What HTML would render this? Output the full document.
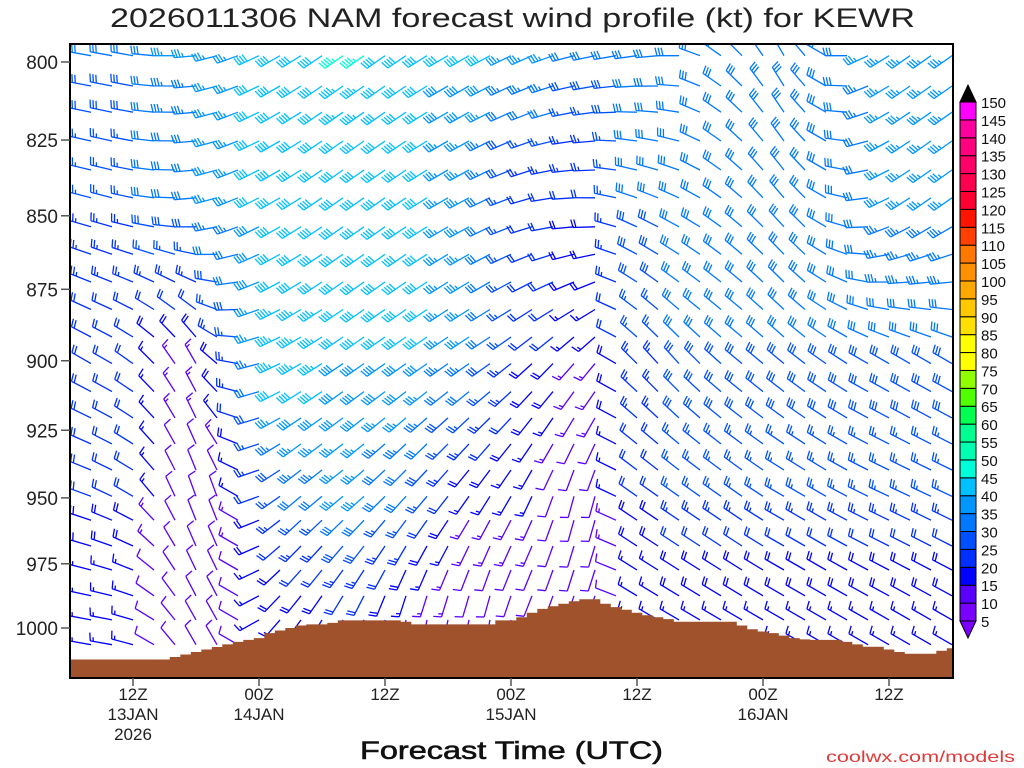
<!DOCTYPE html>
<html><head><meta charset="utf-8"><style>
html,body{margin:0;padding:0;background:#fff;}
svg{display:block;font-family:"Liberation Sans",sans-serif;}
</style></head><body>
<svg id="chart" width="1024" height="768" viewBox="0 0 1024 768" xmlns="http://www.w3.org/2000/svg">
<defs><clipPath id="plotclip"><rect x="70" y="44" width="883" height="634"/></clipPath></defs>
<rect x="0" y="0" width="1024" height="768" fill="#fff"/>
<text x="110" y="27" font-size="27" textLength="805" lengthAdjust="spacingAndGlyphs" fill="#222">2026011306 NAM forecast wind profile (kt) for KEWR</text>
<g id="barbs" clip-path="url(#plotclip)"></g>
<g id="terrain" clip-path="url(#plotclip)"></g>
<rect x="70" y="44" width="883" height="634" fill="none" stroke="#000" stroke-width="2"/>
<g id="yaxis"></g>
<g id="xaxis"></g>
<g id="colorbar"></g>
<text x="360" y="759" font-size="25" stroke="#111" stroke-width="0.6" textLength="303" lengthAdjust="spacingAndGlyphs" fill="#111">Forecast Time (UTC)</text>
<text x="826" y="762" font-size="16" textLength="189" lengthAdjust="spacingAndGlyphs" fill="#e03a3a">coolwx.com/models</text>
</svg>
<script>
const NS="http://www.w3.org/2000/svg";
// ---- data ----
const hours=[0,2,4,6,8,10,12,14,16,18,20,22,24,26,28,30,32,34,36,38,40,42,44,46,48,50,52,54,56,58,60,62,64,66,68,70,72,74,76,78,80,82,84];
const rowLevels=[798,807.6,816,825.3,834.8,844,853.7,863,872.5,882,891.6,901,911,920.5,930,939.6,949.4,958.4,968.2,977.4,987.4,996.8,1006.6];
const keyLevels=[800,850,900,950,1000];
const dir800=[280,280,280,280,275,270,265,255,250,245,240,238,236,235,235,235,236,238,240,240,242,244,246,250,255,258,260,262,265,270,290,305,315,325,330,320,300,270,245,238,235,235,235];
const spd800=[25,30,30,30,30,35,35,35,35,40,40,40,40,45,45,40,40,40,40,40,40,35,35,35,30,30,30,30,30,30,30,30,30,30,30,30,30,30,35,35,35,35,35];
const dir850=[285,285,285,282,278,272,265,255,248,243,240,238,236,235,235,235,236,238,240,242,245,250,255,262,268,272,285,292,295,297,300,305,310,315,318,315,300,285,265,245,238,235,235];
const spd850=[25,25,25,25,30,30,30,35,35,40,40,40,40,40,40,40,40,40,35,35,30,25,20,20,20,20,25,30,30,30,30,30,30,30,30,30,30,30,30,35,35,35,35];
const dir900=[300,300,300,305,315,325,330,310,280,255,245,240,238,236,235,235,235,235,235,235,235,232,228,225,222,220,300,315,318,318,315,312,310,310,310,308,305,303,300,300,300,300,300];
const spd900=[20,20,20,20,15,15,15,20,25,35,45,45,45,40,40,40,40,40,35,35,30,25,20,20,15,15,20,25,25,30,30,30,30,30,30,30,30,30,30,30,30,30,30];
const dir950=[290,290,295,300,320,335,340,340,300,250,235,230,230,230,228,225,222,220,218,215,212,210,205,200,195,195,295,305,305,305,305,305,305,303,300,300,300,298,296,295,295,295,295];
const spd950=[20,20,20,20,15,10,10,10,15,20,25,30,30,35,35,30,30,25,20,15,15,15,15,10,10,10,15,20,20,25,25,25,25,25,25,25,25,25,25,25,25,25,25];
const dir1000=[280,280,280,285,300,320,330,330,300,240,220,215,210,205,200,195,190,190,190,190,190,195,200,200,200,200,290,300,300,300,300,300,300,300,300,300,300,300,300,300,300,300,300];
const spd1000=[15,15,15,15,10,10,10,10,10,15,15,15,15,15,15,15,10,10,10,10,10,10,10,10,10,10,10,15,15,15,15,15,15,15,15,15,15,15,15,15,15,15,15];
const groundP=[1012.5,1012.5,1012.5,1012.5,1012.5,1012.5,1012.5,1012.5,1012.5,1012.5,1011.5,1010.5,1009.5,1008.5,1007.5,1006.5,1005.5,1004.7,1004,1002,1001,1000,999,998.6,998.6,998,997,997,997,997,997,997,997.5,998.6,998.6,998.6,998.6,998.6,998.6,998.6,998.6,997,997,995.8,994,992.5,991.5,990.5,989.5,988.7,988.7,990.5,991.8,992.8,994,995,995.8,996.5,997.5,997.5,997.5,997.5,997.5,997.5,999,1000.5,1001.4,1002,1003,1004,1004.5,1004.7,1004.7,1004.7,1005.5,1006.5,1007.4,1007.4,1008.5,1009.5,1010.2,1010.2,1010.2,1009,1008];
const yTicks=[800,825,850,875,900,925,950,975,1000];
const xTickHours=[6,18,30,42,54,66,78];
const xTickLabels=[["12Z","13JAN","2026"],["00Z","14JAN"],["12Z"],["00Z","15JAN"],["12Z"],["00Z","16JAN"],["12Z"]];
const cbLevels=[5,10,15,20,25,30,35,40,45,50,55,60,65,70,75,80,85,90,95,100,105,110,115,120,125,130,135,140,145,150];
const cbColors=["#7a00ff","#5a00ff","#0000ff","#0030ff","#0050ff","#0078ff","#0096ff","#00c0ff","#00ffd8","#00ffb0","#00ff90","#00ff50","#50ff00","#90ff00","#ffff00","#ffff00","#ffe000","#ffc800","#ffa800","#ff9000","#ff7800","#ff4000","#ff1400","#ff0030","#ff0050","#ff0068","#ff0080","#ff00a0","#ff00ff"];
// ---- axes ----
const X0=70,PX=10.5,Y0=62,KY=566/Math.log(1000/800);
function xOf(h){return X0+h*PX;}
function yOf(p){return Y0+KY*Math.log(p/800);}
function mk(tag,attrs,parent){const e=document.createElementNS(NS,tag);for(const k in attrs)e.setAttribute(k,attrs[k]);parent.appendChild(e);return e;}
function colorFor(s){let i=Math.floor(s/5)-1;if(i<0)i=0;if(i>=cbColors.length)i=cbColors.length-1;return cbColors[i];}
const keyDir=[dir800,dir850,dir900,dir950,dir1000],keySpd=[spd800,spd850,spd900,spd950,spd1000];
function atLevel(arrs,c,p){
  if(p<=keyLevels[0])return arrs[0][c];
  for(let k=0;k<keyLevels.length-1;k++){if(p<=keyLevels[k+1]){const f=(p-keyLevels[k])/(keyLevels[k+1]-keyLevels[k]);return arrs[k][c]*(1-f)+arrs[k+1][c]*f;}}
  return arrs[keyLevels.length-1][c];
}
// ---- barbs ----
const gb=document.getElementById('barbs');
function drawBarb(sx,sy,dir,spd){
  const col=colorFor(spd);
  const g=document.createElementNS(NS,'g');
  
  
  gb.appendChild(g);
  const r=dir*Math.PI/180,ux=Math.sin(r),uy=-Math.cos(r),px=-uy,py=ux,L=22;
  const tx=sx+L*ux,ty=sy+L*uy;
  let d=`M${sx.toFixed(1)},${sy.toFixed(1)}L${tx.toFixed(1)},${ty.toFixed(1)}`;
  let s=Math.round(spd/5)*5,pos=0;
  let polys=[];
  while(s>=50){const bx=tx-pos*ux,by=ty-pos*uy;polys.push([bx,by,bx+8*px,by+8*py,bx-4*ux,by-4*uy]);pos+=5;s-=50;}
  while(s>=10){const bx=tx-pos*ux,by=ty-pos*uy;d+=`M${bx.toFixed(1)},${by.toFixed(1)}L${(bx+8*px+2*ux).toFixed(1)},${(by+8*py+2*uy).toFixed(1)}`;pos+=3;s-=10;}
  if(s>=5){if(pos===0)pos=3;const bx=tx-pos*ux,by=ty-pos*uy;d+=`M${bx.toFixed(1)},${by.toFixed(1)}L${(bx+4*px+1*ux).toFixed(1)},${(by+4*py+1*uy).toFixed(1)}`;}
  mk('path',{d:d,stroke:col,'stroke-width':1.3,fill:'none'},g);
  polys.forEach(q=>mk('polygon',{points:q.map(v=>v.toFixed(1)).join(' '),fill:col},g));
}
hours.forEach((h,c)=>{rowLevels.forEach(p=>{drawBarb(xOf(h),yOf(p),atLevel(keyDir,c,p),atLevel(keySpd,c,p));});});
// ---- terrain ----
const gt=document.getElementById('terrain');
let td=`M${X0},678`;
groundP.forEach((p,i)=>{const xl=Math.max(X0,xOf(i)-PX/2),xr=xOf(i)+PX/2,y=yOf(p);td+=`L${xl.toFixed(1)},${y.toFixed(1)}L${xr.toFixed(1)},${y.toFixed(1)}`;});
td+=`L953,678Z`;
const tp=mk('path',{d:td,fill:'#a0522d'},gt);


// ---- y axis ----
const gy=document.getElementById('yaxis');
yTicks.forEach(p=>{const y=yOf(p);
  const l=mk('line',{x1:61,y1:y,x2:70,y2:y,stroke:'#555','stroke-width':1.5},gy);
  
  
  const t=mk('text',{x:58,y:y+7,'font-size':19,'text-anchor':'end',fill:'#222'},gy);
  
  
  t.textContent=String(p);});
// ---- x axis ----
const gx=document.getElementById('xaxis');
xTickHours.forEach((h,i)=>{const x=xOf(h);
  const l=mk('line',{x1:x,y1:678,x2:x,y2:686,stroke:'#555','stroke-width':1.5},gx);
  
  
  xTickLabels[i].forEach((s,j)=>{const t=mk('text',{x:x,y:700+j*20,'font-size':17,'text-anchor':'middle',fill:'#222'},gx);
    
    
    t.textContent=s;});});
// ---- colorbar ----
const gc=document.getElementById('colorbar');
const CB_TOP=102,CB_BOT=621,CBX=960,CBW=16,bh=(CB_BOT-CB_TOP)/cbColors.length;
cbColors.forEach((c,i)=>{const y=CB_BOT-(i+1)*bh;
  const r=mk('rect',{x:CBX,y:y,width:CBW,height:bh,fill:c,stroke:'#000','stroke-width':1},gc);
  
  });
const t1=mk('polygon',{points:`${CBX},${CB_TOP} ${CBX+CBW},${CB_TOP} ${CBX+CBW/2},85`,fill:'#000',stroke:'#000'},gc);


const t2=mk('polygon',{points:`${CBX},${CB_BOT} ${CBX+CBW},${CB_BOT} ${CBX+CBW/2},638`,fill:cbColors[0],stroke:'#000'},gc);


cbLevels.forEach((v,i)=>{const y=CB_BOT-i*bh;
  const t=mk('text',{x:981,y:y+6,'font-size':15,fill:'#111'},gc);
  
  
  t.textContent=String(v);});
</script>
</body></html>
